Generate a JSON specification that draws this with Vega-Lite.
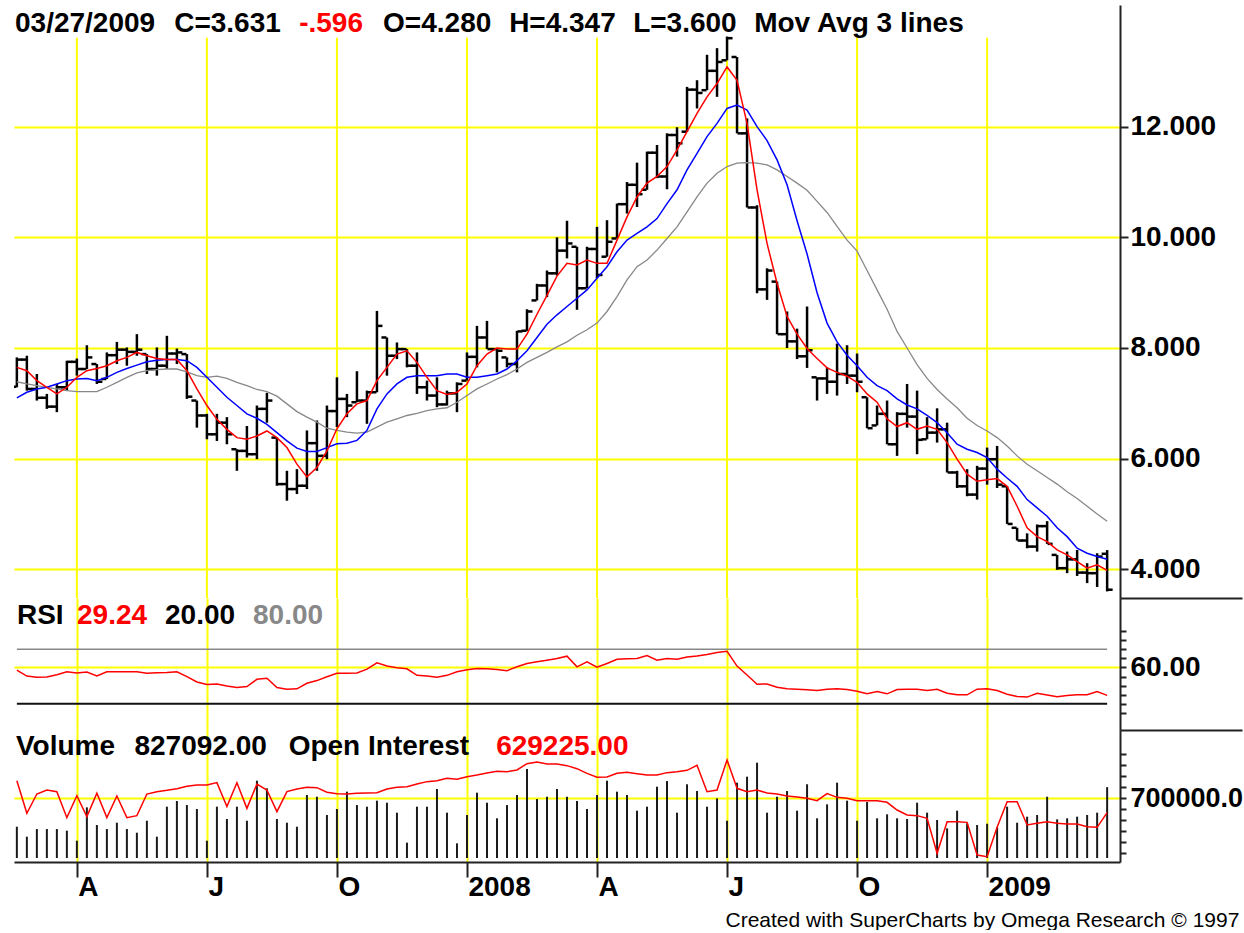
{
  "$schema": "https://vega.github.io/schema/vega-lite/v6.json",
  "background": "white",
  "padding": {"left": 12, "top": 5, "right": 0, "bottom": 0},
  "autosize": {"type": "pad"},
  "spacing": 0,
  "bounds": "flush",
  "config": {
    "view": {"stroke": null},
    "axis": {"labelFont": "Liberation Sans", "labelFontWeight": "bold", "labelFontSize": 28, "labelColor": "black", "domainColor": "#222", "domainWidth": 2, "tickColor": "#222", "tickWidth": 2, "gridColor": "#ffff00", "gridWidth": 2, "gridOpacity": 1, "labelOverlap": false, "labelFlush": false}
  },
  "data": {
    "format": {"parse": {"d": "utc:'%Y-%m-%d'"}},
    "values": [
      {"d":"2007-02-23","o":7.30,"h":7.83,"l":7.29,"c":7.79,"m1":7.65,"m2":7.10,"m3":7.39,"rsi":57.1,"vol":365000,"oi":1073000},
      {"d":"2007-03-02","o":7.79,"h":7.86,"l":7.23,"c":7.26,"m1":7.59,"m2":7.20,"m3":7.35,"rsi":50.5,"vol":249000,"oi":620000},
      {"d":"2007-03-09","o":7.26,"h":7.53,"l":7.05,"c":7.10,"m1":7.41,"m2":7.26,"m3":7.32,"rsi":49.1,"vol":338000,"oi":888000},
      {"d":"2007-03-16","o":7.10,"h":7.17,"l":6.90,"c":6.94,"m1":7.29,"m2":7.29,"m3":7.29,"rsi":49.5,"vol":338000,"oi":944000},
      {"d":"2007-03-23","o":6.94,"h":7.35,"l":6.84,"c":7.29,"m1":7.17,"m2":7.35,"m3":7.26,"rsi":52.0,"vol":338000,"oi":921000},
      {"d":"2007-03-30","o":7.29,"h":7.77,"l":7.23,"c":7.75,"m1":7.29,"m2":7.41,"m3":7.23,"rsi":55.3,"vol":319000,"oi":560000},
      {"d":"2007-04-06","o":7.75,"h":7.81,"l":7.50,"c":7.62,"m1":7.47,"m2":7.44,"m3":7.21,"rsi":53.8,"vol":202000,"oi":865000},
      {"d":"2007-04-13","o":7.62,"h":8.05,"l":7.62,"c":7.83,"m1":7.59,"m2":7.45,"m3":7.21,"rsi":54.9,"vol":591000,"oi":574000},
      {"d":"2007-04-20","o":7.71,"h":7.71,"l":7.35,"c":7.39,"m1":7.63,"m2":7.41,"m3":7.21,"rsi":50.5,"vol":385000,"oi":898000},
      {"d":"2007-04-27","o":7.44,"h":7.92,"l":7.44,"c":7.87,"m1":7.68,"m2":7.47,"m3":7.29,"rsi":55.3,"vol":338000,"oi":560000},
      {"d":"2007-05-04","o":7.87,"h":8.11,"l":7.71,"c":7.97,"m1":7.77,"m2":7.56,"m3":7.38,"rsi":55.3,"vol":412000,"oi":861000},
      {"d":"2007-05-11","o":7.97,"h":8.01,"l":7.68,"c":7.93,"m1":7.83,"m2":7.63,"m3":7.47,"rsi":55.3,"vol":338000,"oi":560000},
      {"d":"2007-05-18","o":7.93,"h":8.25,"l":7.86,"c":7.97,"m1":7.92,"m2":7.69,"m3":7.55,"rsi":55.3,"vol":295000,"oi":588000},
      {"d":"2007-05-25","o":7.89,"h":7.89,"l":7.53,"c":7.62,"m1":7.86,"m2":7.75,"m3":7.59,"rsi":53.5,"vol":435000,"oi":888000},
      {"d":"2007-06-01","o":7.62,"h":8.01,"l":7.50,"c":7.68,"m1":7.81,"m2":7.78,"m3":7.61,"rsi":54.2,"vol":249000,"oi":921000},
      {"d":"2007-06-08","o":7.68,"h":8.22,"l":7.62,"c":7.90,"m1":7.79,"m2":7.79,"m3":7.62,"rsi":54.5,"vol":599000,"oi":939000},
      {"d":"2007-06-15","o":7.90,"h":7.99,"l":7.71,"c":7.92,"m1":7.79,"m2":7.79,"m3":7.62,"rsi":55.3,"vol":665000,"oi":962000},
      {"d":"2007-06-22","o":7.89,"h":7.89,"l":7.08,"c":7.12,"m1":7.59,"m2":7.77,"m3":7.57,"rsi":49.8,"vol":618000,"oi":995000},
      {"d":"2007-06-29","o":7.05,"h":7.05,"l":6.56,"c":6.78,"m1":7.26,"m2":7.65,"m3":7.50,"rsi":44.0,"vol":572000,"oi":1013000},
      {"d":"2007-07-06","o":6.78,"h":6.81,"l":6.35,"c":6.44,"m1":6.96,"m2":7.47,"m3":7.47,"rsi":41.1,"vol":202000,"oi":1013000},
      {"d":"2007-07-13","o":6.44,"h":6.81,"l":6.32,"c":6.65,"m1":6.71,"m2":7.29,"m3":7.49,"rsi":41.8,"vol":599000,"oi":1046000},
      {"d":"2007-07-20","o":6.65,"h":6.75,"l":6.26,"c":6.44,"m1":6.53,"m2":7.11,"m3":7.45,"rsi":39.6,"vol":455000,"oi":713000},
      {"d":"2007-07-27","o":6.17,"h":6.17,"l":5.78,"c":6.14,"m1":6.38,"m2":6.96,"m3":7.38,"rsi":37.8,"vol":599000,"oi":1046000},
      {"d":"2007-08-03","o":6.14,"h":6.59,"l":6.02,"c":6.08,"m1":6.35,"m2":6.81,"m3":7.32,"rsi":38.9,"vol":435000,"oi":689000},
      {"d":"2007-08-10","o":6.08,"h":6.96,"l":5.99,"c":6.90,"m1":6.41,"m2":6.73,"m3":7.25,"rsi":46.9,"vol":902000,"oi":1027000},
      {"d":"2007-08-17","o":6.90,"h":7.19,"l":6.65,"c":7.05,"m1":6.50,"m2":6.62,"m3":7.21,"rsi":48.0,"vol":813000,"oi":944000},
      {"d":"2007-08-24","o":6.38,"h":6.38,"l":5.51,"c":5.54,"m1":6.38,"m2":6.47,"m3":7.13,"rsi":37.8,"vol":455000,"oi":643000},
      {"d":"2007-08-31","o":5.54,"h":5.78,"l":5.24,"c":5.45,"m1":6.20,"m2":6.32,"m3":6.99,"rsi":36.0,"vol":412000,"oi":921000},
      {"d":"2007-09-07","o":5.45,"h":5.81,"l":5.36,"c":5.51,"m1":5.90,"m2":6.19,"m3":6.85,"rsi":36.4,"vol":365000,"oi":958000},
      {"d":"2007-09-14","o":5.51,"h":6.51,"l":5.45,"c":6.28,"m1":5.67,"m2":6.13,"m3":6.75,"rsi":42.5,"vol":735000,"oi":981000},
      {"d":"2007-09-21","o":6.28,"h":6.69,"l":5.78,"c":6.05,"m1":5.84,"m2":6.13,"m3":6.66,"rsi":45.5,"vol":715000,"oi":976000},
      {"d":"2007-09-28","o":6.05,"h":6.96,"l":5.99,"c":6.86,"m1":6.14,"m2":6.20,"m3":6.55,"rsi":49.8,"vol":502000,"oi":912000},
      {"d":"2007-10-05","o":6.86,"h":7.47,"l":6.57,"c":7.08,"m1":6.54,"m2":6.27,"m3":6.51,"rsi":53.5,"vol":572000,"oi":893000},
      {"d":"2007-10-12","o":7.08,"h":7.17,"l":6.75,"c":6.96,"m1":6.81,"m2":6.28,"m3":6.48,"rsi":53.5,"vol":774000,"oi":888000},
      {"d":"2007-10-19","o":7.02,"h":7.58,"l":7.02,"c":7.05,"m1":6.99,"m2":6.33,"m3":6.46,"rsi":53.8,"vol":618000,"oi":898000},
      {"d":"2007-10-26","o":7.05,"h":7.23,"l":6.63,"c":7.20,"m1":7.05,"m2":6.51,"m3":6.48,"rsi":58.2,"vol":599000,"oi":902000},
      {"d":"2007-11-02","o":7.20,"h":8.67,"l":7.20,"c":8.40,"m1":7.41,"m2":6.90,"m3":6.57,"rsi":65.1,"vol":669000,"oi":907000},
      {"d":"2007-11-09","o":8.19,"h":8.19,"l":7.50,"c":7.86,"m1":7.65,"m2":7.17,"m3":6.66,"rsi":61.5,"vol":645000,"oi":958000},
      {"d":"2007-11-16","o":7.86,"h":8.10,"l":7.80,"c":7.98,"m1":7.89,"m2":7.35,"m3":6.72,"rsi":59.6,"vol":529000,"oi":981000},
      {"d":"2007-11-23","o":7.98,"h":7.98,"l":7.65,"c":7.68,"m1":7.95,"m2":7.47,"m3":6.78,"rsi":58.5,"vol":179000,"oi":990000},
      {"d":"2007-11-30","o":7.68,"h":7.92,"l":7.17,"c":7.29,"m1":7.74,"m2":7.50,"m3":6.82,"rsi":51.3,"vol":599000,"oi":1027000},
      {"d":"2007-12-07","o":7.29,"h":7.41,"l":7.05,"c":7.14,"m1":7.47,"m2":7.50,"m3":6.87,"rsi":50.5,"vol":599000,"oi":1060000},
      {"d":"2007-12-14","o":7.14,"h":7.47,"l":6.93,"c":6.98,"m1":7.23,"m2":7.50,"m3":6.90,"rsi":49.1,"vol":805000,"oi":1073000},
      {"d":"2007-12-21","o":6.98,"h":7.23,"l":6.96,"c":7.18,"m1":7.16,"m2":7.53,"m3":6.92,"rsi":51.3,"vol":529000,"oi":1106000},
      {"d":"2007-12-28","o":7.18,"h":7.38,"l":6.84,"c":7.35,"m1":7.20,"m2":7.53,"m3":7.02,"rsi":55.3,"vol":171000,"oi":1092000},
      {"d":"2008-01-04","o":7.41,"h":7.92,"l":7.41,"c":7.84,"m1":7.35,"m2":7.47,"m3":7.14,"rsi":57.5,"vol":502000,"oi":1129000},
      {"d":"2008-01-11","o":7.84,"h":8.40,"l":7.65,"c":8.19,"m1":7.68,"m2":7.47,"m3":7.26,"rsi":58.9,"vol":762000,"oi":1152000},
      {"d":"2008-01-18","o":8.19,"h":8.49,"l":7.98,"c":7.98,"m1":7.89,"m2":7.50,"m3":7.35,"rsi":58.5,"vol":645000,"oi":1180000},
      {"d":"2008-01-25","o":7.98,"h":7.98,"l":7.56,"c":7.95,"m1":8.00,"m2":7.53,"m3":7.44,"rsi":57.8,"vol":463000,"oi":1203000},
      {"d":"2008-02-01","o":7.83,"h":7.83,"l":7.65,"c":7.71,"m1":7.98,"m2":7.62,"m3":7.52,"rsi":56.4,"vol":618000,"oi":1198000},
      {"d":"2008-02-08","o":7.71,"h":8.31,"l":7.56,"c":8.30,"m1":7.98,"m2":7.77,"m3":7.62,"rsi":60.7,"vol":735000,"oi":1222000},
      {"d":"2008-02-15","o":8.31,"h":8.70,"l":8.31,"c":8.66,"m1":8.25,"m2":7.95,"m3":7.74,"rsi":64.4,"vol":1038000,"oi":1309000},
      {"d":"2008-02-22","o":8.86,"h":9.16,"l":8.86,"c":9.13,"m1":8.61,"m2":8.19,"m3":7.83,"rsi":66.2,"vol":688000,"oi":1333000},
      {"d":"2008-02-29","o":9.13,"h":9.40,"l":8.92,"c":9.35,"m1":8.95,"m2":8.43,"m3":7.92,"rsi":68.0,"vol":715000,"oi":1305000},
      {"d":"2008-03-07","o":9.35,"h":10.00,"l":9.31,"c":9.76,"m1":9.30,"m2":8.60,"m3":8.02,"rsi":69.8,"vol":805000,"oi":1305000},
      {"d":"2008-03-14","o":9.76,"h":10.30,"l":9.62,"c":9.89,"m1":9.53,"m2":8.75,"m3":8.11,"rsi":72.4,"vol":715000,"oi":1282000},
      {"d":"2008-03-21","o":9.83,"h":9.83,"l":8.69,"c":9.08,"m1":9.50,"m2":8.90,"m3":8.23,"rsi":60.7,"vol":665000,"oi":1240000},
      {"d":"2008-03-28","o":9.08,"h":9.83,"l":9.08,"c":9.79,"m1":9.59,"m2":9.05,"m3":8.33,"rsi":66.2,"vol":572000,"oi":1175000},
      {"d":"2008-04-04","o":9.79,"h":10.19,"l":9.26,"c":9.32,"m1":9.53,"m2":9.26,"m3":8.45,"rsi":60.4,"vol":735000,"oi":1120000},
      {"d":"2008-04-11","o":9.65,"h":10.31,"l":9.65,"c":9.92,"m1":9.53,"m2":9.47,"m3":8.66,"rsi":64.4,"vol":902000,"oi":1124000},
      {"d":"2008-04-18","o":9.98,"h":10.61,"l":9.98,"c":10.60,"m1":9.95,"m2":9.74,"m3":8.93,"rsi":69.1,"vol":774000,"oi":1175000},
      {"d":"2008-04-25","o":10.60,"h":11.00,"l":10.43,"c":10.95,"m1":10.37,"m2":9.95,"m3":9.23,"rsi":69.5,"vol":735000,"oi":1189000},
      {"d":"2008-05-02","o":10.95,"h":11.35,"l":10.55,"c":10.78,"m1":10.73,"m2":10.07,"m3":9.47,"rsi":69.8,"vol":552000,"oi":1171000},
      {"d":"2008-05-09","o":10.86,"h":11.55,"l":10.86,"c":11.53,"m1":10.98,"m2":10.19,"m3":9.59,"rsi":73.1,"vol":599000,"oi":1152000},
      {"d":"2008-05-16","o":11.53,"h":11.67,"l":11.07,"c":11.10,"m1":11.10,"m2":10.34,"m3":9.77,"rsi":68.0,"vol":832000,"oi":1152000},
      {"d":"2008-05-23","o":11.10,"h":11.88,"l":10.87,"c":11.85,"m1":11.28,"m2":10.61,"m3":9.98,"rsi":69.8,"vol":898000,"oi":1185000},
      {"d":"2008-05-30","o":11.85,"h":11.99,"l":11.46,"c":11.70,"m1":11.58,"m2":10.86,"m3":10.19,"rsi":69.1,"vol":529000,"oi":1198000},
      {"d":"2008-06-06","o":11.91,"h":12.72,"l":11.91,"c":12.67,"m1":11.91,"m2":11.22,"m3":10.46,"rsi":71.6,"vol":860000,"oi":1217000},
      {"d":"2008-06-13","o":12.67,"h":12.84,"l":12.33,"c":12.61,"m1":12.24,"m2":11.52,"m3":10.73,"rsi":72.7,"vol":782000,"oi":1286000},
      {"d":"2008-06-20","o":12.66,"h":13.30,"l":12.66,"c":13.01,"m1":12.54,"m2":11.82,"m3":10.98,"rsi":74.2,"vol":599000,"oi":921000},
      {"d":"2008-06-27","o":13.01,"h":13.42,"l":12.54,"c":13.17,"m1":12.78,"m2":12.06,"m3":11.16,"rsi":76.4,"vol":696000,"oi":944000},
      {"d":"2008-07-04","o":13.20,"h":13.63,"l":13.20,"c":13.60,"m1":13.08,"m2":12.33,"m3":11.28,"rsi":77.8,"vol":435000,"oi":1360000},
      {"d":"2008-07-11","o":13.26,"h":13.26,"l":11.88,"c":11.88,"m1":12.84,"m2":12.39,"m3":11.34,"rsi":61.5,"vol":879000,"oi":967000},
      {"d":"2008-07-18","o":11.88,"h":12.15,"l":10.54,"c":10.54,"m1":12.06,"m2":12.30,"m3":11.35,"rsi":51.6,"vol":949000,"oi":921000},
      {"d":"2008-07-25","o":10.54,"h":10.58,"l":8.99,"c":9.06,"m1":10.86,"m2":12.00,"m3":11.34,"rsi":41.5,"vol":1112000,"oi":944000},
      {"d":"2008-08-01","o":9.06,"h":9.44,"l":8.87,"c":9.40,"m1":9.89,"m2":11.75,"m3":11.31,"rsi":41.8,"vol":529000,"oi":902000},
      {"d":"2008-08-08","o":9.20,"h":9.20,"l":8.25,"c":8.25,"m1":9.17,"m2":11.40,"m3":11.22,"rsi":38.2,"vol":715000,"oi":888000},
      {"d":"2008-08-15","o":8.25,"h":8.66,"l":8.00,"c":8.12,"m1":8.57,"m2":10.95,"m3":11.10,"rsi":36.4,"vol":782000,"oi":861000},
      {"d":"2008-08-22","o":8.12,"h":8.35,"l":7.80,"c":7.85,"m1":8.25,"m2":10.30,"m3":10.98,"rsi":36.0,"vol":552000,"oi":847000},
      {"d":"2008-08-29","o":7.85,"h":8.75,"l":7.64,"c":7.96,"m1":7.99,"m2":9.70,"m3":10.85,"rsi":35.3,"vol":860000,"oi":828000},
      {"d":"2008-09-05","o":7.47,"h":7.47,"l":7.05,"c":7.45,"m1":7.81,"m2":9.00,"m3":10.65,"rsi":34.5,"vol":463000,"oi":796000},
      {"d":"2008-09-12","o":7.45,"h":7.65,"l":7.17,"c":7.39,"m1":7.64,"m2":8.45,"m3":10.45,"rsi":36.0,"vol":626000,"oi":893000},
      {"d":"2008-09-19","o":7.39,"h":8.08,"l":7.14,"c":7.53,"m1":7.56,"m2":8.11,"m3":10.20,"rsi":36.4,"vol":879000,"oi":842000},
      {"d":"2008-09-26","o":7.53,"h":8.05,"l":7.35,"c":7.50,"m1":7.49,"m2":7.87,"m3":9.95,"rsi":35.6,"vol":669000,"oi":828000},
      {"d":"2008-10-03","o":7.50,"h":7.90,"l":7.20,"c":7.39,"m1":7.38,"m2":7.68,"m3":9.75,"rsi":33.8,"vol":435000,"oi":796000},
      {"d":"2008-10-10","o":7.11,"h":7.11,"l":6.55,"c":6.55,"m1":7.17,"m2":7.47,"m3":9.40,"rsi":30.9,"vol":653000,"oi":796000},
      {"d":"2008-10-17","o":6.60,"h":6.96,"l":6.60,"c":6.81,"m1":7.02,"m2":7.32,"m3":9.05,"rsi":33.5,"vol":463000,"oi":796000},
      {"d":"2008-10-24","o":6.81,"h":7.05,"l":6.26,"c":6.26,"m1":6.72,"m2":7.23,"m3":8.70,"rsi":30.9,"vol":510000,"oi":773000},
      {"d":"2008-10-31","o":6.26,"h":6.84,"l":6.05,"c":6.81,"m1":6.58,"m2":7.08,"m3":8.30,"rsi":35.6,"vol":463000,"oi":666000},
      {"d":"2008-11-07","o":6.81,"h":7.35,"l":6.56,"c":6.76,"m1":6.65,"m2":6.97,"m3":8.00,"rsi":36.0,"vol":455000,"oi":597000},
      {"d":"2008-11-14","o":6.76,"h":7.23,"l":6.08,"c":6.34,"m1":6.53,"m2":6.90,"m3":7.70,"rsi":36.0,"vol":645000,"oi":588000},
      {"d":"2008-11-21","o":6.35,"h":6.75,"l":6.35,"c":6.47,"m1":6.59,"m2":6.78,"m3":7.45,"rsi":34.5,"vol":529000,"oi":551000},
      {"d":"2008-11-28","o":6.47,"h":6.91,"l":6.29,"c":6.53,"m1":6.53,"m2":6.65,"m3":7.25,"rsi":36.0,"vol":443000,"oi":65000},
      {"d":"2008-12-05","o":6.53,"h":6.65,"l":5.75,"c":5.75,"m1":6.29,"m2":6.47,"m3":7.08,"rsi":31.6,"vol":346000,"oi":504000},
      {"d":"2008-12-12","o":5.75,"h":5.78,"l":5.47,"c":5.50,"m1":5.99,"m2":6.26,"m3":6.92,"rsi":29.8,"vol":552000,"oi":504000},
      {"d":"2008-12-19","o":5.50,"h":5.81,"l":5.32,"c":5.35,"m1":5.72,"m2":6.17,"m3":6.73,"rsi":29.8,"vol":405000,"oi":495000},
      {"d":"2008-12-26","o":5.35,"h":5.87,"l":5.26,"c":5.82,"m1":5.59,"m2":6.11,"m3":6.60,"rsi":36.0,"vol":385000,"oi":42000},
      {"d":"2009-01-02","o":5.82,"h":6.20,"l":5.53,"c":5.99,"m1":5.62,"m2":6.02,"m3":6.50,"rsi":36.4,"vol":400000,"oi":19000},
      {"d":"2009-01-09","o":5.99,"h":6.23,"l":5.47,"c":5.53,"m1":5.64,"m2":5.81,"m3":6.38,"rsi":34.5,"vol":358000,"oi":426000},
      {"d":"2009-01-16","o":5.50,"h":5.50,"l":4.82,"c":4.82,"m1":5.50,"m2":5.65,"m3":6.23,"rsi":30.5,"vol":599000,"oi":782000},
      {"d":"2009-01-23","o":4.75,"h":4.75,"l":4.52,"c":4.52,"m1":5.14,"m2":5.50,"m3":6.05,"rsi":28.0,"vol":412000,"oi":782000},
      {"d":"2009-01-30","o":4.52,"h":4.65,"l":4.38,"c":4.41,"m1":4.75,"m2":5.26,"m3":5.90,"rsi":27.3,"vol":482000,"oi":458000},
      {"d":"2009-02-06","o":4.41,"h":4.81,"l":4.32,"c":4.78,"m1":4.59,"m2":5.11,"m3":5.78,"rsi":31.6,"vol":502000,"oi":481000},
      {"d":"2009-02-13","o":4.78,"h":4.87,"l":4.46,"c":4.46,"m1":4.50,"m2":4.96,"m3":5.66,"rsi":29.5,"vol":715000,"oi":504000},
      {"d":"2009-02-20","o":4.26,"h":4.26,"l":3.99,"c":4.02,"m1":4.35,"m2":4.75,"m3":5.54,"rsi":27.6,"vol":451000,"oi":481000},
      {"d":"2009-02-27","o":4.02,"h":4.32,"l":3.93,"c":4.18,"m1":4.26,"m2":4.59,"m3":5.40,"rsi":29.1,"vol":463000,"oi":472000},
      {"d":"2009-03-06","o":4.18,"h":4.35,"l":3.88,"c":3.94,"m1":4.14,"m2":4.38,"m3":5.28,"rsi":29.8,"vol":482000,"oi":472000},
      {"d":"2009-03-13","o":3.94,"h":4.11,"l":3.75,"c":3.93,"m1":4.02,"m2":4.29,"m3":5.14,"rsi":29.8,"vol":502000,"oi":435000},
      {"d":"2009-03-20","o":3.93,"h":4.29,"l":3.68,"c":4.23,"m1":4.08,"m2":4.23,"m3":5.00,"rsi":33.5,"vol":529000,"oi":426000},
      {"d":"2009-03-27","o":4.28,"h":4.347,"l":3.60,"c":3.631,"m1":3.98,"m2":4.18,"m3":4.87,"rsi":29.24,"vol":827092,"oi":629225}
    ]
  },
  "vconcat": [
    {
      "width": 1106,
      "height": 593,
      "encoding": {
        "x": {"field": "d", "type": "temporal", "scale": {"type": "utc", "nice": false, "domain": [1172016000000, 1238889600000]}, "axis": null}
      },
      "layer": [
        {
          "transform": [{"filter": "utcmonth(datum.d) % 3 == 0 && utcdate(datum.d) <= 7"}],
          "mark": {"type": "rule", "color": "#ffff00", "strokeWidth": 2},
          "encoding": {
            "y": {"datum": 13.61, "type": "quantitative", "scale": {"domain": [3.481, 14.2], "nice": false, "zero": false},
              "axis": {"orient": "right", "title": null, "values": [3.481], "tickSize": 122, "labels": false, "domain": false, "grid": false}},
            "y2": {"datum": 3.481}
          }
        },
        {
          "mark": {"type": "rule", "color": "black", "strokeWidth": 2.5},
          "encoding": {
            "y": {"field": "l", "type": "quantitative", "scale": {"domain": [3.481, 14.2], "nice": false, "zero": false},
              "axis": {"orient": "right", "title": null, "values": [4, 6, 8, 10, 12], "grid": true, "format": ".3f", "tickSize": 8, "labelPadding": 2}},
            "y2": {"field": "h"}
          }
        },
        {
          "mark": {"type": "tick", "orient": "horizontal", "color": "black", "opacity": 1, "size": 5, "thickness": 2.5, "xOffset": -3, "clip": true},
          "encoding": {"y": {"field": "o", "type": "quantitative", "axis": null}}
        },
        {
          "mark": {"type": "tick", "orient": "horizontal", "color": "black", "opacity": 1, "size": 5, "thickness": 2.5, "xOffset": 3},
          "encoding": {"y": {"field": "c", "type": "quantitative", "axis": null}}
        },
        {
          "mark": {"type": "line", "color": "#888888", "strokeWidth": 1.3},
          "encoding": {"y": {"field": "m3", "type": "quantitative", "axis": null}}
        },
        {
          "mark": {"type": "line", "color": "#0000ff", "strokeWidth": 1.5},
          "encoding": {"y": {"field": "m2", "type": "quantitative", "axis": null}}
        },
        {
          "mark": {"type": "line", "color": "#ff0000", "strokeWidth": 1.5},
          "encoding": {"y": {"field": "m1", "type": "quantitative", "axis": null}}
        },
        {
          "transform": [{"filter": "utcyear(datum.d) == 2009 && utcmonth(datum.d) == 2 && utcdate(datum.d) == 27"}],
          "layer": [
            {"mark": {"type": "text", "text": "03/27/2009", "font": "Liberation Sans", "fontWeight": "bold", "fontSize": 28, "align": "left", "baseline": "alphabetic", "fill": "black"},
              "encoding": {"x": {"datum": 1172077200000, "type": "temporal", "axis": null}, "y": {"datum": 13.71, "type": "quantitative", "axis": null}}},
            {"mark": {"type": "text", "text": "C=3.631", "font": "Liberation Sans", "fontWeight": "bold", "fontSize": 28, "align": "left", "baseline": "alphabetic", "fill": "black"},
              "encoding": {"x": {"datum": 1181700000000, "type": "temporal", "axis": null}, "y": {"datum": 13.71, "type": "quantitative", "axis": null}}},
            {"mark": {"type": "text", "text": "-.596", "font": "Liberation Sans", "fontWeight": "bold", "fontSize": 28, "align": "left", "baseline": "alphabetic", "fill": "#ff0000"},
              "encoding": {"x": {"datum": 1189260000000, "type": "temporal", "axis": null}, "y": {"datum": 13.71, "type": "quantitative", "axis": null}}},
            {"mark": {"type": "text", "text": "O=4.280", "font": "Liberation Sans", "fontWeight": "bold", "fontSize": 28, "align": "left", "baseline": "alphabetic", "fill": "black"},
              "encoding": {"x": {"datum": 1194332400000, "type": "temporal", "axis": null}, "y": {"datum": 13.71, "type": "quantitative", "axis": null}}},
            {"mark": {"type": "text", "text": "H=4.347", "font": "Liberation Sans", "fontWeight": "bold", "fontSize": 28, "align": "left", "baseline": "alphabetic", "fill": "black"},
              "encoding": {"x": {"datum": 1201953600000, "type": "temporal", "axis": null}, "y": {"datum": 13.71, "type": "quantitative", "axis": null}}},
            {"mark": {"type": "text", "text": "L=3.600", "font": "Liberation Sans", "fontWeight": "bold", "fontSize": 28, "align": "left", "baseline": "alphabetic", "fill": "black"},
              "encoding": {"x": {"datum": 1209452400000, "type": "temporal", "axis": null}, "y": {"datum": 13.71, "type": "quantitative", "axis": null}}},
            {"mark": {"type": "text", "text": "Mov Avg 3 lines", "font": "Liberation Sans", "fontWeight": "bold", "fontSize": 28, "align": "left", "baseline": "alphabetic", "fill": "black"},
              "encoding": {"x": {"datum": 1216771200000, "type": "temporal", "axis": null}, "y": {"datum": 13.71, "type": "quantitative", "axis": null}}}
          ]
        }
      ],
      "resolve": {"axis": {"x": "independent", "y": "independent"}}
    },
    {
      "width": 1106,
      "height": 132,
      "encoding": {
        "x": {"field": "d", "type": "temporal", "scale": {"type": "utc", "nice": false, "domain": [1172016000000, 1238889600000]}, "axis": null}
      },
      "layer": [
        {
          "mark": {"type": "line", "color": "#888888", "strokeWidth": 1.5},
          "encoding": {
            "x": {"field": "d", "type": "temporal", "scale": {"type": "utc", "nice": false, "domain": [1172016000000, 1238889600000]},
              "axis": {"orient": "bottom", "title": null, "grid": true, "labels": false, "ticks": false, "domain": false,
                "values": [1175817600000, 1183680000000, 1191542400000, 1199404800000, 1207267200000, 1215129600000, 1222992000000, 1230854400000]}},
            "y": {"datum": 80, "type": "quantitative", "scale": {"domain": [-9, 136.6], "nice": false, "zero": false}, "axis": null}}
        },
        {
          "mark": {"type": "line", "color": "#111111", "strokeWidth": 2},
          "encoding": {"y": {"datum": 20, "type": "quantitative", "scale": {"domain": [-9, 136.6], "nice": false, "zero": false},
            "axis": {"orient": "right", "title": null, "values": [-9], "tickSize": 122, "labels": false, "domain": false, "grid": false}}}
        },
        {
          "mark": {"type": "line", "color": "#ff0000", "strokeWidth": 1.5},
          "encoding": {
            "y": {"field": "rsi", "type": "quantitative", "scale": {"domain": [-9, 136.6], "nice": false, "zero": false},
              "axis": {"orient": "right", "title": null, "values": [10, 20, 30, 40, 50, 60, 70, 80, 90, 100], "grid": true,
                "labelExpr": "datum.value == 60 ? '60.00' : ''",
                "tickSize": 6,
                "gridColor": {"condition": {"test": "datum.value == 60", "value": "#ffff00"}, "value": "rgba(0,0,0,0)"},
                "labelPadding": 4}}
          }
        },
        {
          "transform": [{"filter": "utcyear(datum.d) == 2009 && utcmonth(datum.d) == 2 && utcdate(datum.d) == 27"}],
          "layer": [
            {"mark": {"type": "text", "text": "RSI", "font": "Liberation Sans", "fontWeight": "bold", "fontSize": 28, "align": "left", "baseline": "alphabetic", "fill": "black"},
              "encoding": {"x": {"datum": 1172196000000, "type": "temporal", "axis": null}, "y": {"datum": 107.9, "type": "quantitative", "axis": null}}},
            {"mark": {"type": "text", "text": "29.24", "font": "Liberation Sans", "fontWeight": "bold", "fontSize": 28, "align": "left", "baseline": "alphabetic", "fill": "#ff0000"},
              "encoding": {"x": {"datum": 1175824800000, "type": "temporal", "axis": null}, "y": {"datum": 107.9, "type": "quantitative", "axis": null}}},
            {"mark": {"type": "text", "text": "20.00", "font": "Liberation Sans", "fontWeight": "bold", "fontSize": 28, "align": "left", "baseline": "alphabetic", "fill": "black"},
              "encoding": {"x": {"datum": 1181149200000, "type": "temporal", "axis": null}, "y": {"datum": 107.9, "type": "quantitative", "axis": null}}},
            {"mark": {"type": "text", "text": "80.00", "font": "Liberation Sans", "fontWeight": "bold", "fontSize": 28, "align": "left", "baseline": "alphabetic", "fill": "#888888"},
              "encoding": {"x": {"datum": 1186470000000, "type": "temporal", "axis": null}, "y": {"datum": 107.9, "type": "quantitative", "axis": null}}}
          ]
        }
      ],
      "resolve": {"axis": {"x": "independent", "y": "independent"}}
    },
    {
      "width": 1106,
      "height": 132,
      "encoding": {
        "x": {"field": "d", "type": "temporal", "scale": {"type": "utc", "nice": false, "domain": [1172016000000, 1238889600000]}, "axis": null}
      },
      "layer": [
        {
          "layer": [
            {
              "mark": {"type": "rule", "color": "#1a1a1a", "strokeWidth": 2},
              "encoding": {
                "x": {"field": "d", "type": "temporal", "scale": {"type": "utc", "nice": false, "domain": [1172016000000, 1238889600000]},
                  "axis": {"orient": "bottom", "grid": true,
                    "values": [1175817600000, 1183680000000, 1191542400000, 1199404800000, 1207267200000, 1215129600000, 1222992000000, 1230854400000],
                    "labelExpr": "utcFormat(datum.value, '%m') == '01' ? utcFormat(datum.value, '%Y') : slice(utcFormat(datum.value, '%b'), 0, 1)",
                    "labelAlign": "left", "labelOffset": 1, "labelBaseline": "alphabetic", "labelPadding": 18, "tickSize": 15,
                    "title": "Created with SuperCharts by Omega Research © 1997", "titleX": 711, "titleY": 64, "titleAlign": "left", "titleAnchor": "start", "titleBaseline": "alphabetic",
                    "titleFont": "Liberation Sans", "titleFontSize": 21, "titleFontWeight": "normal", "titleColor": "black"}},
                "y": {"field": "vol", "type": "quantitative", "scale": {"domain": [-46668, 1493376], "nice": false, "zero": false},
                  "axis": {"orient": "right", "title": null, "grid": true, "labelFontSize": 27,
                    "values": [57145, 185716, 314287, 442858, 571429, 700000, 828571, 957142, 1085713, 1214284],
                    "labelExpr": "datum.value == 700000 ? '700000.0' : ''",
                    "tickSize": 6,
                    "gridColor": {"condition": {"test": "datum.value == 700000", "value": "#ffff00"}, "value": "rgba(0,0,0,0)"},
                    "labelPadding": 4}},
                "y2": {"datum": 0}
              }
            },
            {
              "transform": [{"filter": "utcyear(datum.d) == 2009 && utcmonth(datum.d) == 2 && utcdate(datum.d) == 27"}],
              "layer": [
                {"mark": {"type": "text", "text": "Volume", "font": "Liberation Sans", "fontWeight": "bold", "fontSize": 28, "align": "left", "baseline": "alphabetic", "fill": "black"},
                  "encoding": {"x": {"datum": 1172138400000, "type": "temporal", "axis": null}, "y": {"datum": 1205000, "type": "quantitative", "axis": null}}},
                {"mark": {"type": "text", "text": "827092.00", "font": "Liberation Sans", "fontWeight": "bold", "fontSize": 28, "align": "left", "baseline": "alphabetic", "fill": "black"},
                  "encoding": {"x": {"datum": 1179298800000, "type": "temporal", "axis": null}, "y": {"datum": 1205000, "type": "quantitative", "axis": null}}},
                {"mark": {"type": "text", "text": "Open Interest", "font": "Liberation Sans", "fontWeight": "bold", "fontSize": 28, "align": "left", "baseline": "alphabetic", "fill": "black"},
                  "encoding": {"x": {"datum": 1188622800000, "type": "temporal", "axis": null}, "y": {"datum": 1205000, "type": "quantitative", "axis": null}}},
                {"mark": {"type": "text", "text": "629225.00", "font": "Liberation Sans", "fontWeight": "bold", "fontSize": 28, "align": "left", "baseline": "alphabetic", "fill": "#ff0000"},
                  "encoding": {"x": {"datum": 1201168800000, "type": "temporal", "axis": null}, "y": {"datum": 1205000, "type": "quantitative", "axis": null}}}
              ]
            }
          ],
          "resolve": {"axis": {"x": "independent", "y": "independent"}}
        },
        {
          "mark": {"type": "line", "color": "#ff0000", "strokeWidth": 1.5},
          "encoding": {"y": {"field": "oi", "type": "quantitative", "scale": {"domain": [-55524, 1776768], "nice": false, "zero": false}, "axis": null}}
        }
      ],
      "resolve": {"scale": {"y": "independent"}, "axis": {"x": "independent", "y": "independent"}}
    }
  ]
}
